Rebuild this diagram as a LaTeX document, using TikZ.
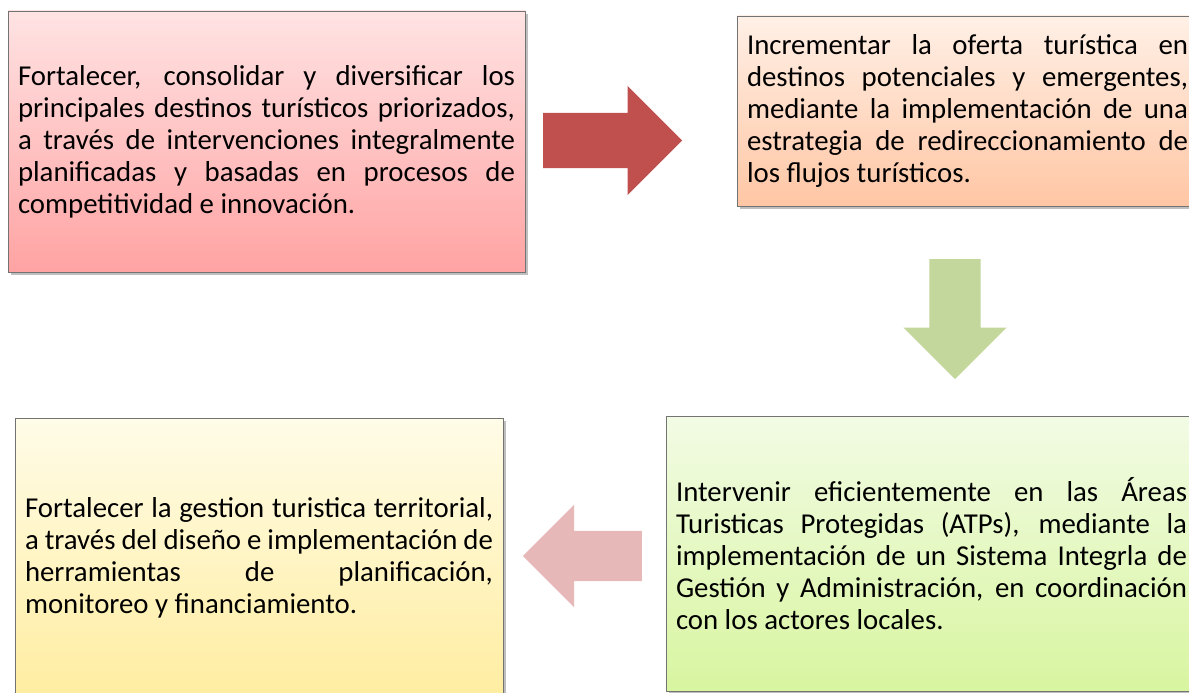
\documentclass[tikz,border=0pt]{standalone}
\usepackage{fontspec}
\setmainfont{Carlito}
\usepackage{tikz}
\usetikzlibrary{positioning,shapes.arrows,shadows}
\definecolor{arrowred}{HTML}{C0504D}
\definecolor{arrowgreen}{HTML}{C3D69B}
\definecolor{arrowpink}{HTML}{E6B9B8}
\definecolor{pinktop}{HTML}{FFE3E3}
\definecolor{pinkbot}{HTML}{FFA3A3}
\definecolor{peachtop}{HTML}{FFF0E6}
\definecolor{peachbot}{HTML}{FFC6A4}
\definecolor{greentop}{HTML}{F2FBE4}
\definecolor{greenbot}{HTML}{D8F5A0}
\definecolor{yellowtop}{HTML}{FFFCE8}
\definecolor{yellowbot}{HTML}{FFEDA0}

\begin{document}
\begin{tikzpicture}[x=1pt, y=-1pt,
  goalbox/.style={draw=gray!90!black, line width=0.8pt, inner xsep=10pt, inner ysep=0pt, align=justify,
    font=\fontsize{28.8}{32}\selectfont,
    drop shadow={shadow xshift=3pt, shadow yshift=-3pt, fill=black, opacity=.25}},
  blockarrow/.style={single arrow, inner sep=0pt, text depth=0pt, single arrow tip angle=90, anchor=tail}]
\useasboundingbox (0,0) rectangle (1189,693);
\clip (0,0) rectangle (1189,693);
%goal 1
\node[goalbox, top color=pinktop, bottom color=pinkbot, text width=497pt, minimum height=261pt] (g1) at (266.5,141.5)
  {Fortalecer, consolidar y diversificar los\linebreak principales destinos turísticos priorizados,\linebreak a través de intervenciones integralmente\linebreak planificadas y basadas en procesos de\linebreak competitividad e innovación.};
%goal 2
\node[goalbox, top color=peachtop, bottom color=peachbot, text width=441pt, minimum height=190pt] (g2) at (967.5,111)
  {Incrementar la oferta turística en\linebreak destinos potenciales y emergentes,\linebreak mediante la implementación de una\linebreak estrategia de redireccionamiento de\linebreak los flujos turísticos.};
%goal 3
\node[goalbox, top color=greentop, bottom color=greenbot, text width=511pt, minimum height=275pt] (g3) at (931.5,553.5)
  {Intervenir eficientemente en las Áreas\linebreak Turisticas Protegidas (ATPs), mediante la\linebreak implementación de un Sistema Integrla de\linebreak Gestión y Administración, en coordinación\linebreak con los actores locales.};
%goal 4
\node[goalbox, top color=yellowtop, bottom color=yellowbot, text width=468pt, minimum height=280pt] (g4) at (259,558)
  {Fortalecer la gestion turistica territorial,\linebreak a través del diseño e implementación de\linebreak herramientas de planificación,\linebreak monitoreo y financiamiento.};
%arrows
\node[blockarrow, fill=arrowred, minimum height=139pt, text height=55pt, single arrow head extend=27pt] (a12) at (543,140.5) {};
\node[blockarrow, fill=arrowgreen, rotate=-90, minimum height=120pt, text height=51pt, single arrow head extend=26pt] (a23) at (955,259) {};
\node[blockarrow, fill=arrowpink, rotate=180, minimum height=119pt, text height=50pt, single arrow head extend=26pt] (a34) at (642,556) {};
\end{tikzpicture}
\end{document}
